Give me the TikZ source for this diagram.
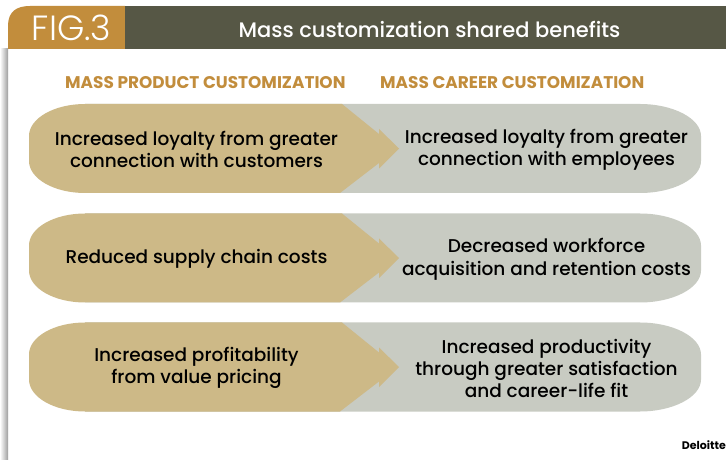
\documentclass[tikz,border=0pt]{standalone}
\usepackage{fontspec}
\setmainfont{Poppins}
\newfontfamily\medfont{Poppins Medium}
\newfontfamily\lightfont{Poppins Light}
\definecolor{gold}{HTML}{C28D3C}
\definecolor{dark}{HTML}{565745}
\definecolor{tan}{HTML}{CDB987}
\definecolor{sage}{HTML}{C8CBC2}
\tikzset{
  x=1bp,y=-1bp,
  bodytext/.style={font=\medfont\fontsize{18.5bp}{22.2bp}\selectfont,align=center,text=black,inner sep=0pt},
  headtext/.style={font=\fontsize{16.9bp}{18bp}\selectfont\bfseries,text=gold,inner sep=0pt,anchor=west},
}
\newcommand{\bandrow}[3]{% top, left text, right text
  \begin{scope}[shift={(0,#1)}]
    \fill[sage] (85,0) -- (640,0) .. controls (673,0) and (701,14.4) .. (701,32) -- (701,57) .. controls (701,74.6) and (673,89) .. (640,89) -- (85,89) -- cycle;
    \fill[tan] (85,0) -- (342,0) -- (379,30) -- (379,25) -- (399,44.5) -- (379,64.5) -- (379,59) -- (340,89) -- (85,89) .. controls (54,89) and (29,74.6) .. (29,57) -- (29,32) .. controls (29,14.4) and (54,0) .. (85,0) -- cycle;
    \node[bodytext] at (196.5,45.7) {#2};
    \node[bodytext] at (546.5,45.7) {#3};
  \end{scope}
}
\begin{document}
\begin{tikzpicture}
\useasboundingbox (0,0) rectangle (726,460);
\fill[white] (0,0) rectangle (726,460);
\shade[left color=white,right color=black!38] (0,49) rectangle (8,460);
\fill[gold] (8,49) -- (8,26) .. controls (8,12) and (16,6) .. (30,6) -- (125,6) -- (125,49) -- cycle;
\fill[dark] (125,6) rectangle (726,49);
\node[font=\lightfont\fontsize{35bp}{37bp}\selectfont,text=white,inner sep=0pt] (fig) at (71.5,28) {FIG.3};
\node[font=\medfont\fontsize{21bp}{24bp}\selectfont,text=white,inner sep=0pt] (title) at (429.5,29) {Mass customization shared benefits};
\node[headtext] (l) at (65,83) {MASS PRODUCT CUSTOMIZATION};
\node[headtext] (r) at (380,83) {MASS CAREER CUSTOMIZATION};
\bandrow{104}{Increased loyalty from greater\\connection with customers}{Increased loyalty from greater\\connection with employees}
\bandrow{213.5}{Reduced supply chain costs}{Decreased workforce\\acquisition and retention costs}
\bandrow{322.5}{Increased profitability\\from value pricing}{Increased productivity\\through greater satisfaction\\and career-life fit}
\node[font=\fontsize{11bp}{12bp}\selectfont\bfseries,text=black,inner sep=0pt,anchor=east] (logo) at (726,445) {Deloitte};
\end{tikzpicture}
\end{document}
